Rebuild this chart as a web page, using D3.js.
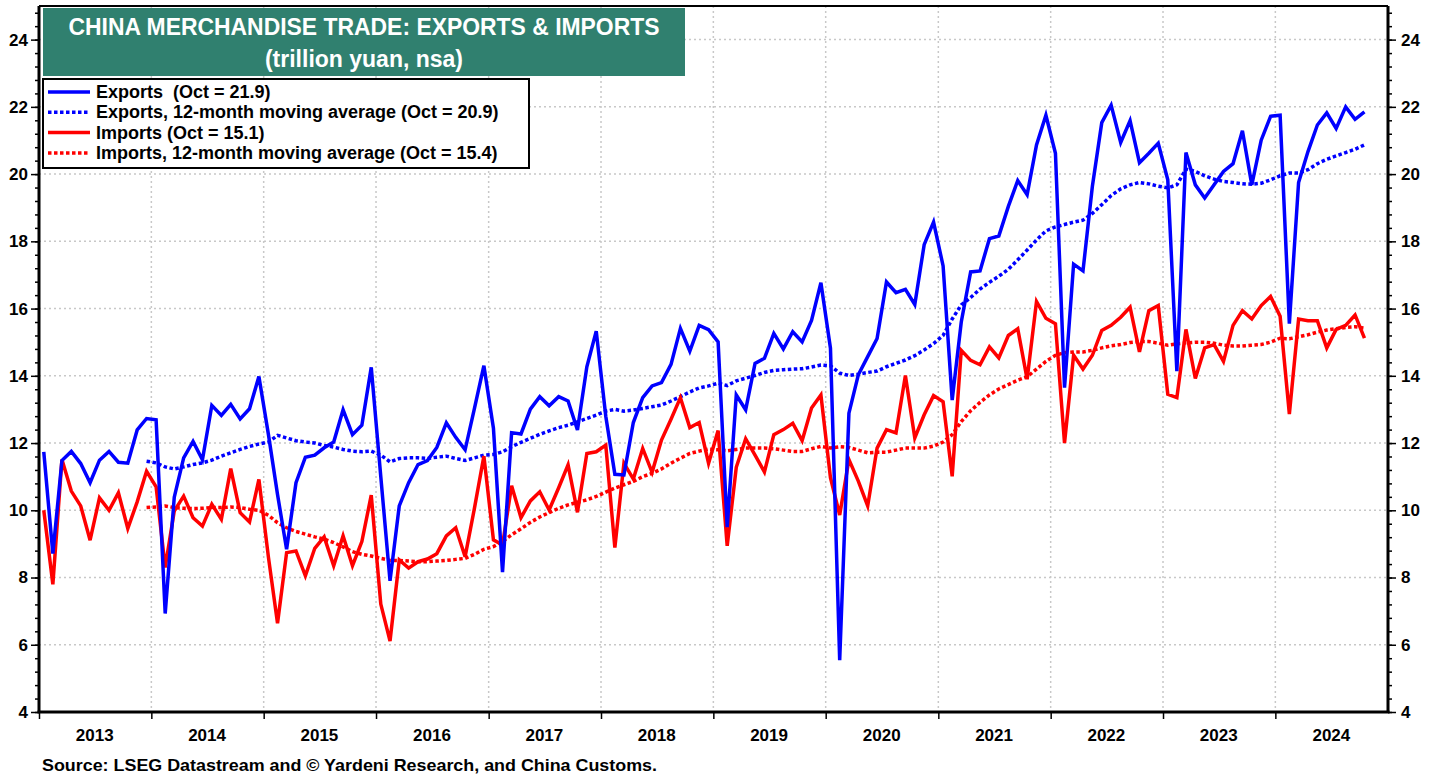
<!DOCTYPE html>
<html>
<head>
<meta charset="utf-8">
<script src="https://cdn.jsdelivr.net/npm/d3@7"></script>
<style>
body { margin: 0; background: #fff; }
text { font-family: "Liberation Sans", Arial, sans-serif; font-weight: bold; }
</style>
</head>
<body>
<svg id="chart" width="1438" height="778"></svg>
<script>
// monthly data, Jan 2013 - Oct 2024 (trillion yuan)
const firstMonth = new Date(2013, 0, 1);
const maFirstMonth = new Date(2013, 11, 1); // 12-month averages start Dec 2013
const yearLabels = d3.range(2013, 2025);
const yTicks = d3.range(4, 25, 2);

const exportsData = [
  11.74, 8.71, 11.48, 11.75, 11.39, 10.82, 11.49, 11.75, 11.43, 11.40, 12.39, 12.73,
  12.69, 6.93, 10.39, 11.56, 12.05, 11.50, 13.12, 12.82, 13.15, 12.72, 13.02, 13.98,
  12.25, 10.47, 8.84, 10.82, 11.58, 11.64, 11.86, 12.03, 12.99, 12.25, 12.53, 14.25,
  11.00, 7.90, 10.13, 10.82, 11.36, 11.48, 11.87, 12.60, 12.17, 11.80, 13.04, 14.30,
  12.44, 8.16, 12.31, 12.27, 13.01, 13.38, 13.11, 13.38, 13.25, 12.39, 14.27, 15.33,
  12.80, 11.07, 11.05, 12.61, 13.35, 13.70, 13.80, 14.34, 15.41, 14.73, 15.50, 15.37,
  15.01, 9.50, 13.43, 12.99, 14.37, 14.52, 15.26, 14.80, 15.31, 15.01, 15.65, 16.77,
  14.82, 5.54, 12.89, 14.03, 14.57, 15.11, 16.79, 16.47, 16.57, 16.12, 17.90, 18.57,
  17.27, 13.28, 15.60, 17.09, 17.12, 18.08, 18.16, 19.04, 19.81, 19.39, 20.87, 21.75,
  20.62, 13.65, 17.32, 17.12, 19.64, 21.53, 22.05, 20.94, 21.59, 20.34, 20.62, 20.92,
  19.83, 14.14, 20.64, 19.68, 19.29, 19.68, 20.08, 20.31, 21.29, 19.68, 21.01, 21.72,
  21.75, 15.55, 19.75, 20.67, 21.46, 21.82, 21.36, 22.00, 21.63, 21.85
];

const importsData = [
  10.00, 7.80, 11.51, 10.57, 10.13, 9.11, 10.37, 10.00, 10.52, 9.46, 10.25, 11.16,
  10.70, 8.30, 9.98, 10.42, 9.78, 9.53, 10.18, 9.73, 11.24, 9.93, 9.65, 10.92,
  8.60, 6.64, 8.74, 8.79, 8.05, 8.87, 9.21, 8.35, 9.24, 8.35, 9.07, 10.45,
  7.21, 6.11, 8.52, 8.28, 8.47, 8.55, 8.71, 9.24, 9.48, 8.62, 10.07, 11.61,
  9.12, 8.97, 10.73, 9.78, 10.28, 10.55, 10.01, 10.67, 11.35, 9.94, 11.69, 11.74,
  11.94, 8.89, 11.40, 10.93, 11.84, 11.13, 12.09, 12.71, 13.35, 12.46, 12.61, 11.40,
  12.37, 8.94, 11.28, 12.13, 11.64, 11.14, 12.25, 12.40, 12.59, 12.07, 13.04, 13.43,
  10.97, 9.86, 11.51, 10.87, 10.13, 11.85, 12.40, 12.30, 14.01, 12.15, 12.84, 13.41,
  13.23, 11.01, 14.76, 14.46, 14.33, 14.86, 14.53, 15.20, 15.40, 13.90, 16.21, 15.71,
  15.55, 12.00, 14.61, 14.20, 14.61, 15.35, 15.50, 15.74, 16.04, 14.71, 15.94, 16.09,
  13.45, 13.35, 15.38, 13.92, 14.83, 14.93, 14.43, 15.50, 15.94, 15.69, 16.09, 16.36,
  15.77, 12.86, 15.69, 15.64, 15.64, 14.83, 15.38, 15.50, 15.81, 15.12
];

const exportsMA = [
  11.46,
  11.41, 11.29, 11.23, 11.29, 11.36, 11.41, 11.49, 11.61, 11.71, 11.81, 11.90, 11.97,
  12.03, 12.23, 12.15, 12.07, 12.03, 12.00, 11.93, 11.88, 11.81, 11.76, 11.74, 11.76,
  11.64, 11.44, 11.54, 11.56, 11.56, 11.54, 11.58, 11.61, 11.54, 11.48, 11.56, 11.64,
  11.66, 11.74, 11.89, 12.02, 12.14, 12.26, 12.36, 12.46, 12.53, 12.63, 12.73, 12.83,
  12.95, 13.00, 12.95, 12.98, 13.03, 13.08, 13.13, 13.25, 13.38, 13.52, 13.64, 13.70,
  13.78, 13.71, 13.85, 13.93, 14.01, 14.10, 14.16, 14.18, 14.20, 14.21, 14.26, 14.32,
  14.30, 14.08, 14.01, 14.05, 14.10, 14.14, 14.27, 14.37, 14.47, 14.60, 14.77, 14.96,
  15.20, 15.69, 16.11, 16.33, 16.58, 16.78, 16.96, 17.17, 17.45, 17.74, 18.04, 18.31,
  18.43, 18.50, 18.57, 18.63, 18.83, 19.09, 19.36, 19.56, 19.68, 19.75, 19.71, 19.64,
  19.59, 19.68, 20.15, 20.08, 19.95, 19.85, 19.78, 19.75, 19.71, 19.70, 19.73, 19.83,
  19.95, 20.03, 20.03, 20.13, 20.31, 20.44, 20.54, 20.64, 20.74, 20.87
];

const importsMA = [
  10.08,
  10.10, 10.13, 10.08, 10.06, 10.05, 10.06, 10.08, 10.08, 10.10, 10.08, 10.03, 10.00,
  9.85, 9.63, 9.48, 9.37, 9.29, 9.21, 9.14, 9.04, 8.91, 8.77, 8.69, 8.64,
  8.57, 8.51, 8.51, 8.49, 8.47, 8.47, 8.49, 8.51, 8.54, 8.57, 8.69, 8.84,
  8.92, 9.07, 9.27, 9.45, 9.64, 9.80, 9.93, 10.06, 10.16, 10.24, 10.31, 10.41,
  10.54, 10.66, 10.76, 10.86, 11.00, 11.10, 11.23, 11.40, 11.55, 11.69, 11.76, 11.82,
  11.80, 11.77, 11.81, 11.85, 11.85, 11.85, 11.83, 11.79, 11.75, 11.75, 11.83, 11.90,
  11.85, 11.89, 11.87, 11.79, 11.71, 11.73, 11.73, 11.79, 11.85, 11.85, 11.85, 11.91,
  12.03, 12.25, 12.64, 12.96, 13.21, 13.43, 13.61, 13.74, 13.87, 13.97, 14.20, 14.43,
  14.61, 14.69, 14.71, 14.71, 14.76, 14.83, 14.89, 14.93, 14.99, 15.02, 15.02, 14.97,
  14.91, 14.95, 14.98, 15.00, 15.00, 14.97, 14.91, 14.89, 14.89, 14.91, 14.93, 15.00,
  15.12, 15.10, 15.16, 15.22, 15.30, 15.36, 15.40, 15.44, 15.46, 15.42
];

const legendItems = [
  { label: "Exports  (Oct = 21.9)", color: "#0000ff", dotted: false },
  { label: "Exports, 12-month moving average (Oct = 20.9)", color: "#0000ff", dotted: true },
  { label: "Imports (Oct = 15.1)", color: "#ff0000", dotted: false },
  { label: "Imports, 12-month moving average (Oct = 15.4)", color: "#ff0000", dotted: true }
];

const svg = d3.select("#chart");
const plotLeft = 39, plotRight = 1388, plotTop = 6, plotBottom = 712;

const x = d3.scaleTime()
  .domain([firstMonth, new Date(2025, 0, 1)])
  .range([plotLeft, plotRight]);
const y = d3.scaleLinear()
  .domain([4, 25])
  .range([plotBottom, plotTop]);

// middle of a month
function midX(d) {
  return (x(d) + x(d3.timeMonth.offset(d, 1))) / 2;
}
function toPoints(values, start) {
  return values.map((v, i) => ({ date: d3.timeMonth.offset(start, i), value: v }));
}

// grid
const yearStarts = yearLabels.map(yr => new Date(yr, 0, 1));
svg.append("g")
  .selectAll("line")
  .data(yTicks.filter(d => d > 4))
  .join("line")
  .attr("x1", plotLeft).attr("x2", plotRight)
  .attr("y1", d => y(d)).attr("y2", d => y(d))
  .attr("stroke", "#c8c8c8").attr("stroke-width", 1.5)
  .attr("stroke-dasharray", "2,3");
svg.append("g")
  .selectAll("line")
  .data(yearStarts.slice(1))
  .join("line")
  .attr("x1", d => x(d)).attr("x2", d => x(d))
  .attr("y1", plotTop).attr("y2", plotBottom)
  .attr("stroke", "#c8c8c8").attr("stroke-width", 1.5)
  .attr("stroke-dasharray", "2,3");

// lines
const line = d3.line()
  .x(d => midX(d.date))
  .y(d => y(d.value));

const series = [
  { pts: toPoints(importsMA, maFirstMonth), color: "#ff0000", dotted: true },
  { pts: toPoints(exportsMA, maFirstMonth), color: "#0000ff", dotted: true },
  { pts: toPoints(importsData, firstMonth), color: "#ff0000", dotted: false },
  { pts: toPoints(exportsData, firstMonth), color: "#0000ff", dotted: false }
];
svg.append("g")
  .selectAll("path")
  .data(series)
  .join("path")
  .attr("d", d => line(d.pts))
  .attr("fill", "none")
  .attr("stroke", d => d.color)
  .attr("stroke-width", 3.5)
  .attr("stroke-linejoin", "miter")
  .attr("stroke-dasharray", d => d.dotted ? "3.5,2.5" : null);

// axes
const minorTicks = d3.range(0, 53).map(k => 4 + k * 0.4);
function styleAxis(g) {
  g.select(".domain").remove();
  g.selectAll("line").attr("stroke", "#000").attr("stroke-width", 1.5);
  g.attr("font-size", 17).selectAll("text").attr("fill", "#000");
}
svg.append("g")
  .attr("transform", `translate(${plotLeft},0)`)
  .call(d3.axisLeft(y).tickValues(minorTicks).tickSize(4).tickFormat(""))
  .call(styleAxis);
svg.append("g")
  .attr("transform", `translate(${plotLeft},0)`)
  .call(d3.axisLeft(y).tickValues(yTicks).tickSize(8).tickPadding(3).tickFormat(d3.format("d")))
  .call(styleAxis);
svg.append("g")
  .attr("transform", `translate(${plotRight},0)`)
  .call(d3.axisRight(y).tickValues(minorTicks).tickSize(4).tickFormat(""))
  .call(styleAxis);
svg.append("g")
  .attr("transform", `translate(${plotRight},0)`)
  .call(d3.axisRight(y).tickValues(yTicks).tickSize(8).tickPadding(5).tickFormat(d3.format("d")))
  .call(styleAxis);
svg.append("g")
  .attr("transform", `translate(0,${plotBottom})`)
  .call(d3.axisBottom(x).tickValues(yearStarts).tickSize(7).tickFormat(""))
  .call(styleAxis);

svg.append("g")
  .selectAll("text")
  .data(yearLabels)
  .join("text")
  .attr("x", d => x(new Date(d, 6, 1)))
  .attr("y", 741)
  .attr("text-anchor", "middle")
  .attr("font-size", 17)
  .text(d => d);

// frame
svg.append("line").attr("x1", plotLeft).attr("x2", plotRight).attr("y1", plotTop).attr("y2", plotTop)
  .attr("stroke", "#000").attr("stroke-width", 2);
svg.append("line").attr("x1", plotLeft - 1.5).attr("x2", plotRight + 1.5).attr("y1", plotBottom).attr("y2", plotBottom)
  .attr("stroke", "#000").attr("stroke-width", 3);
svg.append("line").attr("x1", plotLeft).attr("x2", plotLeft).attr("y1", plotTop).attr("y2", plotBottom)
  .attr("stroke", "#000").attr("stroke-width", 3);
svg.append("line").attr("x1", plotRight).attr("x2", plotRight).attr("y1", plotTop).attr("y2", plotBottom)
  .attr("stroke", "#000").attr("stroke-width", 3);

// title box
svg.append("rect")
  .attr("x", 43).attr("y", 8).attr("width", 642).attr("height", 68)
  .attr("fill", "#30806f");
svg.append("text")
  .attr("x", 364).attr("y", 35)
  .attr("text-anchor", "middle")
  .attr("fill", "#fff").attr("font-size", 23)
  .attr("textLength", 591).attr("lengthAdjust", "spacingAndGlyphs")
  .text("CHINA MERCHANDISE TRADE: EXPORTS & IMPORTS");
svg.append("text")
  .attr("x", 364).attr("y", 67)
  .attr("text-anchor", "middle")
  .attr("fill", "#fff").attr("font-size", 23)
  .text("(trillion yuan, nsa)");

// legend
const legend = svg.append("g");
legend.append("rect")
  .attr("x", 43).attr("y", 79).attr("width", 486).attr("height", 89)
  .attr("fill", "#fff").attr("stroke", "#000").attr("stroke-width", 2);
const rows = legend.selectAll("g.row")
  .data(legendItems)
  .join("g")
  .attr("class", "row")
  .attr("transform", (d, i) => `translate(0,${92 + i * 20.3})`);
rows.append("line")
  .attr("x1", 48).attr("x2", 90)
  .attr("stroke", d => d.color).attr("stroke-width", 3.5)
  .attr("stroke-dasharray", d => d.dotted ? "3.5,2.5" : null);
rows.append("text")
  .attr("x", 96).attr("y", 6)
  .attr("font-size", 18)
  .style("white-space", "pre")
  .text(d => d.label);

// source
svg.append("text")
  .attr("x", 42).attr("y", 771)
  .attr("font-size", 17)
  .attr("textLength", 615).attr("lengthAdjust", "spacingAndGlyphs")
  .text("Source: LSEG Datastream and \u00a9 Yardeni Research, and China Customs.");
</script>
</body>
</html>
